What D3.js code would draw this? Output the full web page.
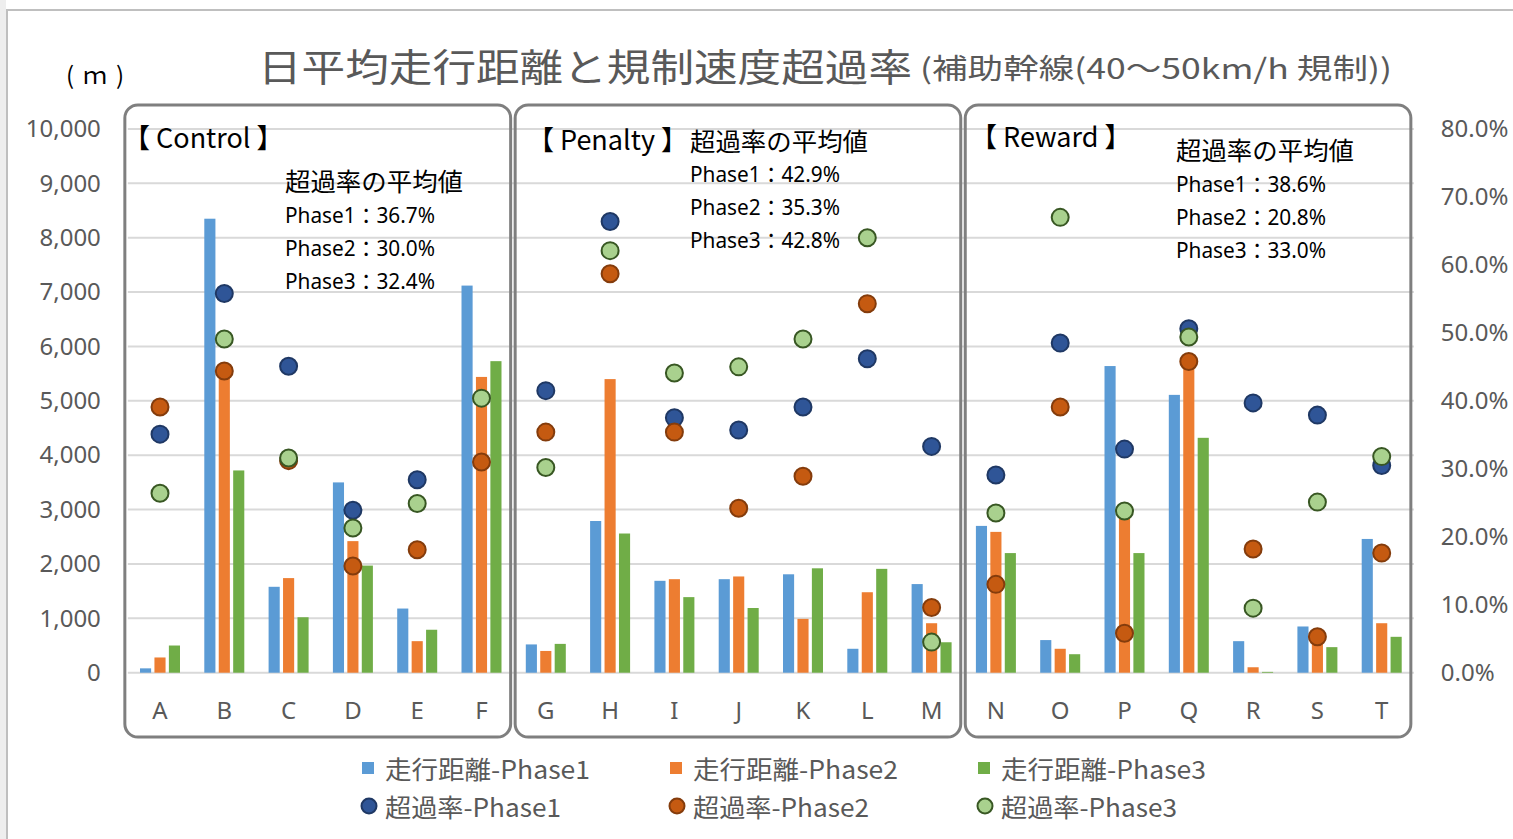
<!DOCTYPE html>
<html><head><meta charset="utf-8">
<script src="https://cdn.jsdelivr.net/npm/d3@7"></script>
<style>body{margin:0;background:#fff;}svg{display:block;}</style>
</head><body>
<svg id="chart" width="1513" height="839"></svg>
<script>
const categories = ["A","B","C","D","E","F","G","H","I","J","K","L","M","N","O","P","Q","R","S","T"];
const distP1 = [80, 8350, 1580, 3500, 1180, 7120, 520, 2790, 1690, 1720, 1810, 440, 1630, 2700, 600, 5640, 5110, 580, 850, 2460];
const distP2 = [280, 5500, 1740, 2420, 580, 5440, 400, 5400, 1720, 1770, 990, 1480, 910, 2590, 440, 2900, 5650, 100, 550, 910];
const distP3 = [500, 3720, 1020, 1970, 790, 5730, 530, 2560, 1390, 1190, 1920, 1910, 560, 2200, 340, 2200, 4320, 15, 470, 660];
const rateP1 = [35.1, 55.8, 45.1, 23.9, 28.4, null, 41.5, 66.4, 37.5, 35.7, 39.1, 46.2, 33.3, 29.1, 48.5, 32.9, 50.6, 39.7, 37.9, 30.5];
const rateP2 = [39.1, 44.4, 31.2, 15.7, 18.1, 31.0, 35.4, 58.7, 35.4, 24.2, 28.9, 54.3, 9.6, 13.0, 39.1, 5.8, 45.8, 18.2, 5.3, 17.6];
const rateP3 = [26.4, 49.1, 31.6, 21.3, 24.9, 40.4, 30.2, 62.1, 44.1, 45.0, 49.1, 64.0, 4.5, 23.5, 67.0, 23.8, 49.4, 9.5, 25.1, 31.8];
const leftTicks = [0,1000,2000,3000,4000,5000,6000,7000,8000,9000,10000];
const rightTicks = [0,0.1,0.2,0.3,0.4,0.5,0.6,0.7,0.8];
const groups = [
  {name:"【 Control 】", first:"A", last:"F", avgs:["Phase1：36.7%","Phase2：30.0%","Phase3：32.4%"]},
  {name:"【 Penalty 】", first:"G", last:"M", avgs:["Phase1：42.9%","Phase2：35.3%","Phase3：42.8%"]},
  {name:"【 Reward 】", first:"N", last:"T", avgs:["Phase1：38.6%","Phase2：20.8%","Phase3：33.0%"]}
];
const seriesNames = ["Phase1","Phase2","Phase3"];
const barColors = ["#5B9BD5","#ED7D31","#70AD47"];
const dotFill = ["#2F5597","#C55A11","#A9D18E"];
const dotStroke = ["#1F3864","#843C0C","#385723"];

const svg = d3.select("#chart");
const FONT = "'Noto Sans','Noto Sans CJK JP',sans-serif";
const JFONT = "'Noto Sans CJK JP','Noto Sans',sans-serif";

// background & frame
svg.append("rect").attr("x",0).attr("y",0).attr("width",6).attr("height",839).attr("fill","#eeeeee");
svg.append("rect").attr("x",7).attr("y",10).attr("width",1540).attr("height",860)
  .attr("fill","#fff").attr("stroke","#bfbfbf").attr("stroke-width",2);

const plotL = 127.85, plotR = 1413.85, yTop = 129, yBot = 672.7;
const x0 = d3.scaleBand().domain(categories).range([plotL, plotR]).paddingInner(0.378).paddingOuter(0.189);
const x1 = d3.scaleBand().domain([0,1,2]).range([0, x0.bandwidth()]).paddingInner(0.23);
const y = d3.scaleLinear().domain([0,10000]).range([yBot, yTop]);
const y2 = d3.scaleLinear().domain([0,0.8]).range([yBot, yTop]);

// gridlines
svg.append("g").selectAll("line").data(leftTicks).join("line")
  .attr("x1", plotL).attr("x2", plotR)
  .attr("y1", d=>y(d)).attr("y2", d=>y(d))
  .attr("stroke","#d9d9d9").attr("stroke-width",2);

// left axis
const gl = svg.append("g").attr("transform",`translate(${plotL},0)`)
  .call(d3.axisLeft(y).tickValues(leftTicks).tickFormat(d3.format(",")).tickSize(0).tickPadding(27));
gl.select(".domain").remove();
gl.selectAll("text").attr("font-family",FONT).attr("font-size",24).attr("fill","#595959");

// right axis
const gr = svg.append("g").attr("transform",`translate(${plotR},0)`)
  .call(d3.axisRight(y2).tickValues(rightTicks).tickFormat(d3.format(".1%")).tickSize(0).tickPadding(27));
gr.select(".domain").remove();
gr.selectAll("text").attr("font-family",FONT).attr("font-size",24).attr("fill","#595959");

// category axis
const gx = svg.append("g").attr("transform",`translate(0,${yBot})`)
  .call(d3.axisBottom(x0).tickSize(0).tickPadding(29));
gx.select(".domain").remove();
gx.selectAll("text").attr("font-family",FONT).attr("font-size",24).attr("fill","#595959");

// panels
const step = x0.step();
groups.forEach((g,i)=>{
  const left = x0(g.first) - x0.paddingOuter()*step - (i===0?0:-1.5) - (i===0?3:0);
  const right = x0(g.last) + x0.bandwidth() + x0.paddingOuter()*step - 3;
  svg.append("rect").attr("x", left).attr("y",105).attr("width", right-left).attr("height", 632)
    .attr("rx",13).attr("fill","none").attr("stroke","#7f7f7f").attr("stroke-width",3);
});

// bars
const dists = [distP1, distP2, distP3];
dists.forEach((arr,s)=>{
  svg.append("g").selectAll("rect").data(categories).join("rect")
    .attr("x", (c)=>x0(c)+x1(s))
    .attr("width", x1.bandwidth())
    .attr("y", (c,i)=>y(arr[i]))
    .attr("height", (c,i)=>yBot - y(arr[i]))
    .attr("fill", barColors[s]);
});

// dots
const rates = [rateP1, rateP2, rateP3];
rates.forEach((arr,s)=>{
  svg.append("g").selectAll("circle").data(categories.filter((c,i)=>arr[i]!=null)).join("circle")
    .attr("cx", c=>x0(c)+x0.bandwidth()/2)
    .attr("cy", c=>y2(arr[categories.indexOf(c)]/100))
    .attr("r", 8.5)
    .attr("fill", dotFill[s]).attr("stroke", dotStroke[s]).attr("stroke-width",2);
});

// panel titles & annotations
const titlePos = [[123,136],[527,138],[970,135]];
const annPos = [[285,180,215,33],[690,140,174,33],[1176,149,184,33]];
groups.forEach((g,i)=>{
  svg.append("text").attr("x",titlePos[i][0]).attr("y",titlePos[i][1]).attr("dominant-baseline","central")
    .attr("font-family",JFONT).attr("font-size",27).attr("fill","#000").text(g.name);
  const a = annPos[i];
  svg.append("text").attr("x",a[0]).attr("y",a[1]).attr("dominant-baseline","central")
    .attr("font-family",JFONT).attr("font-size",25).attr("fill","#000")
    .attr("textLength",178).attr("lengthAdjust","spacingAndGlyphs").text("超過率の平均値");
  g.avgs.forEach((t,k)=>{
    svg.append("text").attr("x",a[0]).attr("y",a[2]+k*a[3]).attr("dominant-baseline","central")
      .attr("font-family",FONT).attr("font-size",21).attr("fill","#000")
      .attr("textLength",150).attr("lengthAdjust","spacingAndGlyphs").text(t);
  });
});

// title
svg.append("text").attr("x",258).attr("y",64).attr("dominant-baseline","central")
  .attr("font-family",JFONT).attr("font-size",38).attr("fill","#595959")
  .attr("textLength",654).attr("lengthAdjust","spacingAndGlyphs").text("日平均走行距離と規制速度超過率");
svg.append("text").attr("x",920).attr("y",67).attr("dominant-baseline","central")
  .attr("font-family",JFONT).attr("font-size",28).attr("fill","#595959")
  .attr("textLength",472).attr("lengthAdjust","spacingAndGlyphs").text("(補助幹線(40～50km/h 規制))");
svg.append("text").attr("x",66).attr("y",73).attr("dominant-baseline","central")
  .attr("font-family",JFONT).attr("font-size",24).attr("fill","#000")
  .attr("textLength",58).attr("lengthAdjust","spacing").text("(ｍ)");

// legend
const legX = [362, 670, 978];
seriesNames.forEach((p,s)=>{
  svg.append("rect").attr("x",legX[s]).attr("y",762).attr("width",12).attr("height",12).attr("fill",barColors[s]);
  svg.append("text").attr("x",legX[s]+23).attr("y",768).attr("dominant-baseline","central")
    .attr("font-family",JFONT).attr("font-size",25).attr("fill","#595959")
    .attr("textLength",205).attr("lengthAdjust","spacingAndGlyphs").text("走行距離-"+p);
  svg.append("circle").attr("cx",legX[s]+7).attr("cy",806).attr("r",7.5)
    .attr("fill",dotFill[s]).attr("stroke",dotStroke[s]).attr("stroke-width",2);
  svg.append("text").attr("x",legX[s]+23).attr("y",806).attr("dominant-baseline","central")
    .attr("font-family",JFONT).attr("font-size",25).attr("fill","#595959")
    .attr("textLength",176).attr("lengthAdjust","spacingAndGlyphs").text("超過率-"+p);
});
</script>
</body></html>
